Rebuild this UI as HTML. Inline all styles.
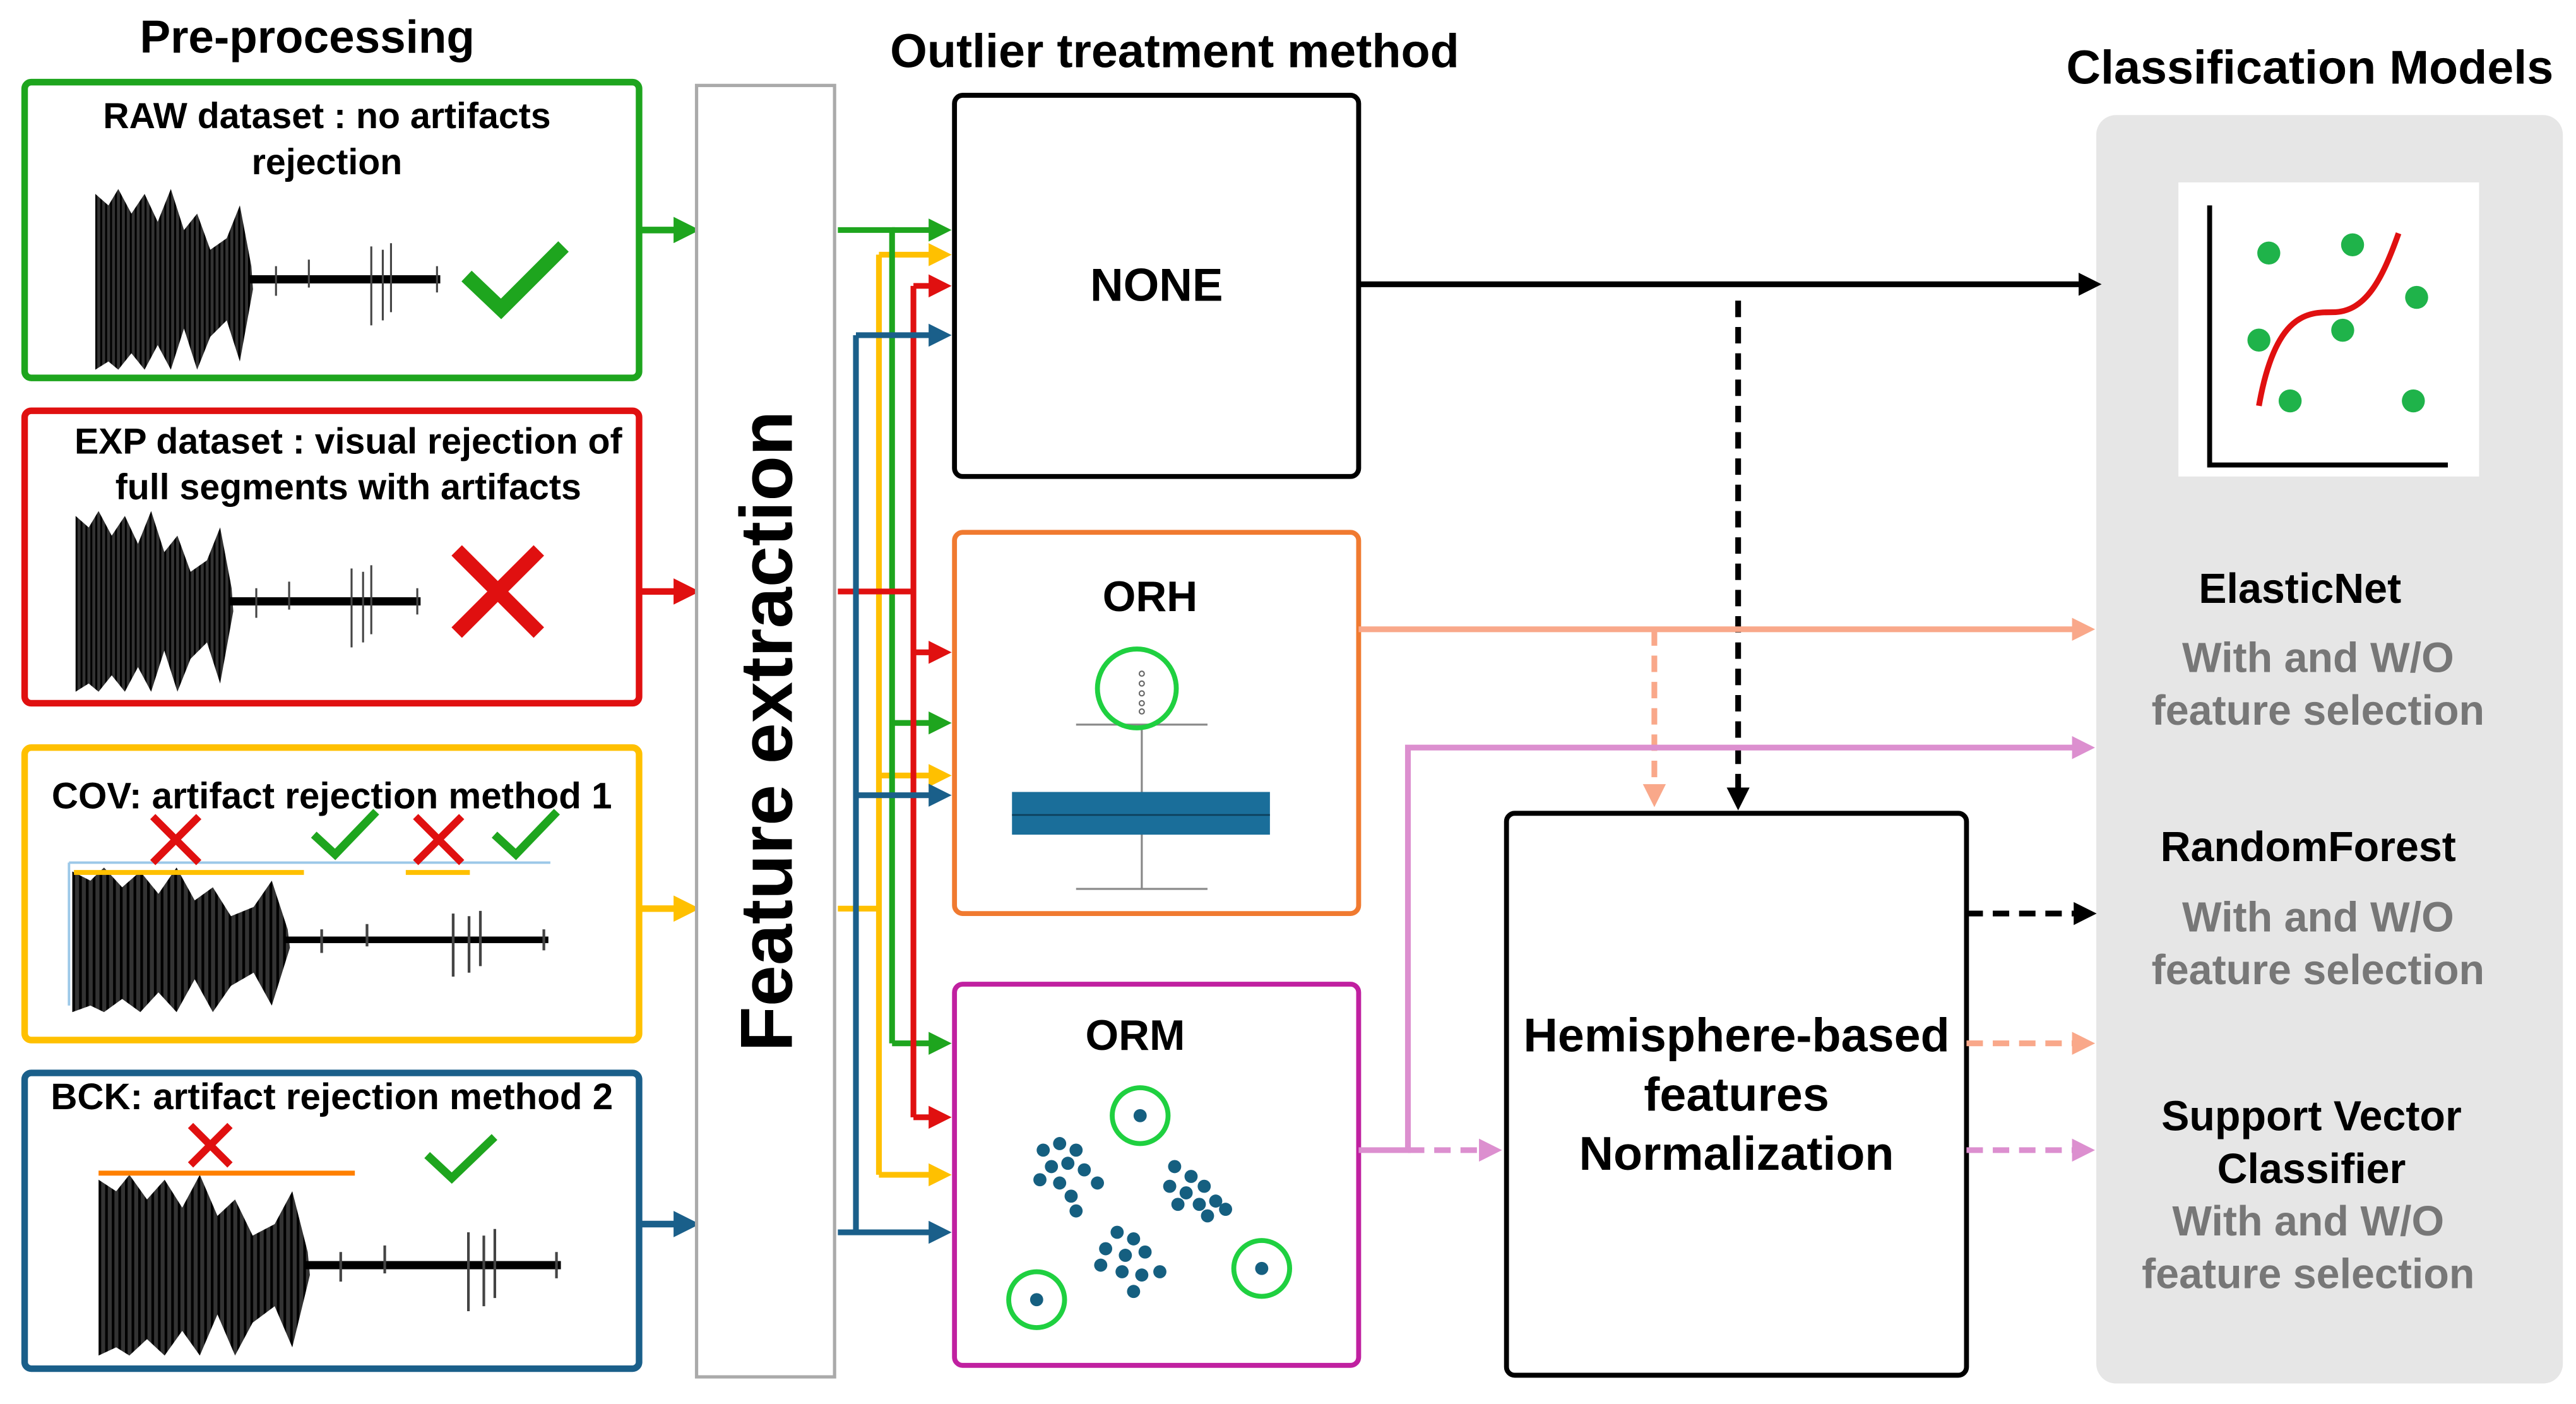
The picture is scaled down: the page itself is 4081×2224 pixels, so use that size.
<!DOCTYPE html>
<html><head><meta charset="utf-8"><style>
html,body{margin:0;padding:0;background:#fff;}
svg{display:block;}
text{font-family:"Liberation Sans",sans-serif;font-weight:bold;}
</style></head><body>
<svg width="4081" height="2224" viewBox="0 0 1568 854.5" xmlns="http://www.w3.org/2000/svg">
<defs>
<marker id="ag" markerWidth="4" markerHeight="4" refX="2.5" refY="2" orient="auto" markerUnits="strokeWidth"><path d="M0,0 L4,2 L0,4 z" fill="#1ea51e"/></marker>
<marker id="ar" markerWidth="4" markerHeight="4" refX="2.5" refY="2" orient="auto" markerUnits="strokeWidth"><path d="M0,0 L4,2 L0,4 z" fill="#e01010"/></marker>
<marker id="ay" markerWidth="4" markerHeight="4" refX="2.5" refY="2" orient="auto" markerUnits="strokeWidth"><path d="M0,0 L4,2 L0,4 z" fill="#ffc000"/></marker>
<marker id="ab" markerWidth="4" markerHeight="4" refX="2.5" refY="2" orient="auto" markerUnits="strokeWidth"><path d="M0,0 L4,2 L0,4 z" fill="#1a5f8a"/></marker>
<marker id="ak" markerWidth="4" markerHeight="4" refX="2.5" refY="2" orient="auto" markerUnits="strokeWidth"><path d="M0,0 L4,2 L0,4 z" fill="#000"/></marker>
<marker id="as" markerWidth="4" markerHeight="4" refX="2.5" refY="2" orient="auto" markerUnits="strokeWidth"><path d="M0,0 L4,2 L0,4 z" fill="#f9a88a"/></marker>
<marker id="ap" markerWidth="4" markerHeight="4" refX="2.5" refY="2" orient="auto" markerUnits="strokeWidth"><path d="M0,0 L4,2 L0,4 z" fill="#dc8fcf"/></marker>
<pattern id="wv" width="3" height="10" patternUnits="userSpaceOnUse"><rect width="3" height="10" fill="#333"/><rect width="1.2" height="10" fill="#000"/></pattern>
<g id="wave">
<path d="M0,-52 L8,-45 L14,-55 L22,-40 L30,-52 L38,-35 L46,-55 L54,-30 L62,-40 L70,-18 L80,-25 L88,-45 L95,-8 L96,6 L88,50 L80,25 L70,35 L62,55 L54,30 L46,55 L38,40 L30,55 L22,45 L14,55 L8,50 L0,55 Z" fill="url(#wv)"/>
<rect x="94" y="-2.5" width="116" height="5" fill="#000"/>
<path d="M110,-8V10 M130,-12V5 M168,-20V28 M175,-18V25 M180,-22V20 M208,-8V8" stroke="#444" stroke-width="1.2"/>
</g>
</defs>

<text x="187" y="32" font-size="28" text-anchor="middle">Pre-processing</text>
<text x="715" y="41" font-size="29" text-anchor="middle">Outlier treatment method</text>
<text x="1406" y="51" font-size="29" text-anchor="middle">Classification Models</text>

<rect x="1276" y="70" width="284" height="772" rx="12" fill="#e6e6e6"/>
<rect x="1326" y="111" width="183" height="179" fill="#fff"/>
<path d="M1345,125 V283 H1490" stroke="#000" stroke-width="3" fill="none"/>
<path d="M1375,247 C1385,190 1405,190 1420,190 C1440,190 1450,170 1460,142" stroke="#e01010" stroke-width="3.5" fill="none"/>
<g fill="#1fb34a"><circle cx="1381" cy="154" r="7"/><circle cx="1432" cy="149" r="7"/><circle cx="1471" cy="181" r="7"/><circle cx="1375" cy="207" r="7"/><circle cx="1426" cy="201" r="7"/><circle cx="1394" cy="244" r="7"/><circle cx="1469" cy="244" r="7"/></g>
<g font-size="25.5" text-anchor="middle">
<text x="1400" y="367">ElasticNet</text>
<text x="1411" y="409" fill="#777">With and W/O</text>
<text x="1411" y="441" fill="#777">feature selection</text>
<text x="1405" y="524">RandomForest</text>
<text x="1411" y="567" fill="#777">With and W/O</text>
<text x="1411" y="599" fill="#777">feature selection</text>
<text x="1407" y="688">Support Vector</text>
<text x="1407" y="720">Classifier</text>
<text x="1405" y="752" fill="#777">With and W/O</text>
<text x="1405" y="784" fill="#777">feature selection</text>
</g>

<rect x="15" y="50" width="374" height="180" rx="4" fill="#fff" stroke="#1ea51e" stroke-width="4"/>
<text x="199" y="78" font-size="22" text-anchor="middle">RAW dataset : no artifacts</text>
<text x="199" y="106" font-size="22" text-anchor="middle">rejection</text>
<use href="#wave" transform="translate(58,170)"/>
<path d="M284,168 L305,188 L343,150" stroke="#1ea51e" stroke-width="9" fill="none"/>

<rect x="15" y="250" width="374" height="178" rx="4" fill="#fff" stroke="#e01010" stroke-width="4"/>
<text x="212" y="276" font-size="22" text-anchor="middle">EXP dataset : visual rejection of</text>
<text x="212" y="304" font-size="22" text-anchor="middle">full segments with artifacts</text>
<use href="#wave" transform="translate(46,366)"/>
<path d="M278,335 L328,385 M328,335 L278,385" stroke="#e01010" stroke-width="9"/>

<rect x="15" y="455" width="374" height="178" rx="4" fill="#fff" stroke="#ffc000" stroke-width="4"/>
<text x="202" y="492" font-size="22.4" text-anchor="middle">COV: artifact rejection method 1</text>
<line x1="42" y1="525" x2="335" y2="525" stroke="#9cc8e8" stroke-width="1.5"/>
<line x1="42" y1="525" x2="42" y2="612" stroke="#9cc8e8" stroke-width="1.5"/>
<use href="#wave" transform="translate(44,572) scale(1.38,0.8)"/>
<line x1="45" y1="531" x2="185" y2="531" stroke="#ffc000" stroke-width="3"/>
<line x1="247" y1="531" x2="286" y2="531" stroke="#ffc000" stroke-width="3"/>
<path d="M93,497 L121,525 M121,497 L93,525 M253,497 L281,525 M281,497 L253,525" stroke="#e01010" stroke-width="4.5"/>
<path d="M191,508 L204,520 L229,494 M301,508 L314,520 L339,494" stroke="#1ea51e" stroke-width="5" fill="none"/>

<rect x="15" y="653" width="374" height="180" rx="4" fill="#fff" stroke="#1a5f8a" stroke-width="4"/>
<text x="202" y="675" font-size="22.4" text-anchor="middle">BCK: artifact rejection method 2</text>
<use href="#wave" transform="translate(60,770) scale(1.34,1)"/>
<line x1="60" y1="714" x2="216" y2="714" stroke="#ff8000" stroke-width="3"/>
<path d="M116,685 L140,709 M140,685 L116,709" stroke="#e01010" stroke-width="4.5"/>
<path d="M260,703 L275,717 L301,692" stroke="#1ea51e" stroke-width="5" fill="none"/>

<line x1="389" y1="140" x2="420" y2="140" stroke="#1ea51e" stroke-width="4" marker-end="url(#ag)"/>
<line x1="389" y1="360" x2="420" y2="360" stroke="#e01010" stroke-width="4" marker-end="url(#ar)"/>
<line x1="389" y1="553" x2="420" y2="553" stroke="#ffc000" stroke-width="4" marker-end="url(#ay)"/>
<line x1="389" y1="745" x2="420" y2="745" stroke="#1a5f8a" stroke-width="4" marker-end="url(#ab)"/>

<rect x="424" y="52" width="84" height="786" fill="#fff" stroke="#aaa" stroke-width="2"/>
<text transform="translate(482,445) rotate(-90)" font-size="45" text-anchor="middle">Feature extraction</text>

<g fill="none" stroke-width="3.5">
<path d="M510,553 H535 V715" stroke="#ffc000"/>
<path d="M535,553 V155" stroke="#ffc000"/>
<line x1="535" y1="155" x2="574" y2="155" stroke="#ffc000" marker-end="url(#ay)"/>
<line x1="535" y1="472" x2="574" y2="472" stroke="#ffc000" marker-end="url(#ay)"/>
<line x1="535" y1="715" x2="574" y2="715" stroke="#ffc000" marker-end="url(#ay)"/>
<path d="M510,140 H543 V635" stroke="#1ea51e"/>
<line x1="543" y1="140" x2="574" y2="140" stroke="#1ea51e" marker-end="url(#ag)"/>
<line x1="543" y1="440" x2="574" y2="440" stroke="#1ea51e" marker-end="url(#ag)"/>
<line x1="543" y1="635" x2="574" y2="635" stroke="#1ea51e" marker-end="url(#ag)"/>
<path d="M510,360 H556 V680 M556,360 V174" stroke="#e01010"/>
<line x1="556" y1="174" x2="574" y2="174" stroke="#e01010" marker-end="url(#ar)"/>
<line x1="556" y1="397" x2="574" y2="397" stroke="#e01010" marker-end="url(#ar)"/>
<line x1="556" y1="680" x2="574" y2="680" stroke="#e01010" marker-end="url(#ar)"/>
<path d="M521,750 V204" stroke="#1a5f8a"/>
<line x1="521" y1="204" x2="574" y2="204" stroke="#1a5f8a" marker-end="url(#ab)"/>
<line x1="521" y1="484" x2="574" y2="484" stroke="#1a5f8a" marker-end="url(#ab)"/>
<line x1="510" y1="750" x2="574" y2="750" stroke="#1a5f8a" marker-end="url(#ab)"/>
</g>

<rect x="581" y="58" width="246" height="232" rx="5" fill="#fff" stroke="#000" stroke-width="3"/>
<text x="704" y="183" font-size="28" text-anchor="middle">NONE</text>

<rect x="581" y="324" width="246" height="232" rx="5" fill="#fff" stroke="#f07a30" stroke-width="3"/>
<text x="700" y="372" font-size="26" text-anchor="middle">ORH</text>
<path d="M695,441 V541 M655,441 H735 M655,541 H735" stroke="#888" stroke-width="1.2"/>
<rect x="616" y="482" width="157" height="26" fill="#1a6e9a"/>
<line x1="616" y1="496" x2="773" y2="496" stroke="#0d3f5a" stroke-width="1"/>
<g fill="none" stroke="#666" stroke-width="0.8"><circle cx="695" cy="410" r="1.5"/><circle cx="695" cy="416" r="1.5"/><circle cx="695" cy="422" r="1.5"/><circle cx="695" cy="428" r="1.5"/><circle cx="695" cy="433" r="1.5"/></g>
<circle cx="692" cy="419" r="24" fill="none" stroke="#1fd040" stroke-width="3"/>

<rect x="581" y="599" width="246" height="232" rx="5" fill="#fff" stroke="#c020a0" stroke-width="3"/>
<text x="691" y="639" font-size="26" text-anchor="middle">ORM</text>
<g fill="#155f80">
<circle cx="635" cy="700" r="4"/><circle cx="645" cy="696" r="4"/><circle cx="655" cy="700" r="4"/><circle cx="640" cy="710" r="4"/><circle cx="650" cy="708" r="4"/><circle cx="660" cy="712" r="4"/><circle cx="633" cy="718" r="4"/><circle cx="645" cy="720" r="4"/><circle cx="668" cy="720" r="4"/><circle cx="652" cy="728" r="4"/><circle cx="655" cy="737" r="4"/>
<circle cx="715" cy="710" r="4"/><circle cx="725" cy="716" r="4"/><circle cx="712" cy="722" r="4"/><circle cx="722" cy="726" r="4"/><circle cx="733" cy="722" r="4"/><circle cx="730" cy="733" r="4"/><circle cx="740" cy="731" r="4"/><circle cx="746" cy="736" r="4"/><circle cx="735" cy="740" r="4"/><circle cx="717" cy="733" r="4"/>
<circle cx="680" cy="750" r="4"/><circle cx="690" cy="754" r="4"/><circle cx="673" cy="760" r="4"/><circle cx="685" cy="764" r="4"/><circle cx="697" cy="762" r="4"/><circle cx="670" cy="770" r="4"/><circle cx="683" cy="774" r="4"/><circle cx="695" cy="776" r="4"/><circle cx="706" cy="774" r="4"/><circle cx="690" cy="786" r="4"/>
<circle cx="694" cy="679" r="4"/><circle cx="631" cy="791" r="4"/><circle cx="768" cy="772" r="4"/>
</g>
<g fill="none" stroke="#1fd040" stroke-width="3"><circle cx="694" cy="679" r="17"/><circle cx="631" cy="791" r="17"/><circle cx="768" cy="772" r="17"/></g>

<rect x="917" y="495" width="280" height="342" rx="5" fill="#fff" stroke="#000" stroke-width="3"/>
<g font-size="29" text-anchor="middle">
<text x="1057" y="640">Hemisphere-based</text>
<text x="1057" y="676">features</text>
<text x="1057" y="712">Normalization</text>
</g>

<g fill="none" stroke-width="3.5">
<line x1="827" y1="173" x2="1274" y2="173" stroke="#000" marker-end="url(#ak)"/>
<line x1="1058" y1="183" x2="1058" y2="488" stroke="#000" stroke-dasharray="10,6" marker-end="url(#ak)"/>
<line x1="827" y1="383" x2="1270" y2="383" stroke="#f9a88a" marker-end="url(#as)"/>
<line x1="1007" y1="383" x2="1007" y2="486" stroke="#f9a88a" stroke-dasharray="10,6" marker-end="url(#as)"/>
<path d="M827,700 H857 V455 H1270" stroke="#dc8fcf" marker-end="url(#ap)"/>
<line x1="857" y1="700" x2="909" y2="700" stroke="#dc8fcf" stroke-dasharray="10,6" marker-end="url(#ap)"/>
<line x1="1197" y1="556" x2="1271" y2="556" stroke="#000" stroke-dasharray="10,6" marker-end="url(#ak)"/>
<line x1="1197" y1="635" x2="1270" y2="635" stroke="#f9a88a" stroke-dasharray="10,6" marker-end="url(#as)"/>
<line x1="1197" y1="700" x2="1270" y2="700" stroke="#dc8fcf" stroke-dasharray="10,6" marker-end="url(#ap)"/>
</g>
</svg>
</body></html>
